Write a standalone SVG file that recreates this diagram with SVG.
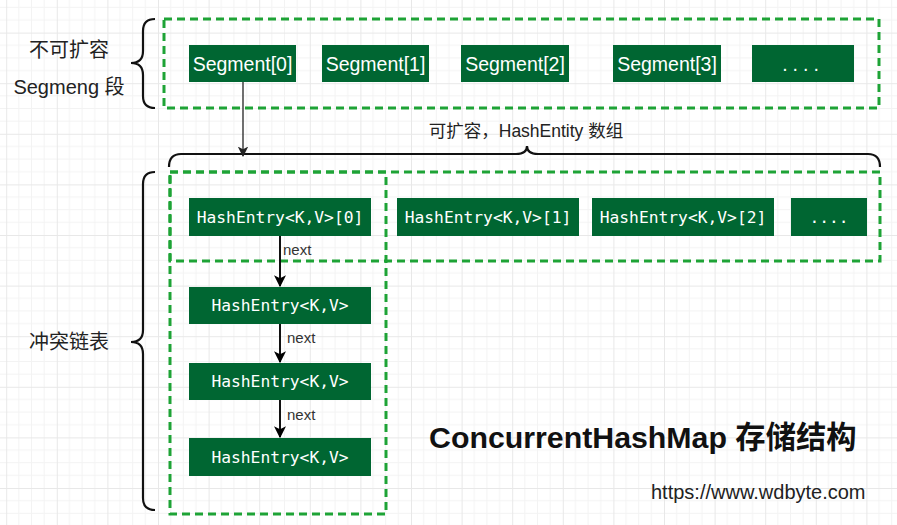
<svg xmlns="http://www.w3.org/2000/svg" width="897" height="525" viewBox="0 0 897 525">
<defs>
<pattern id="grid" width="50.6" height="50.6" patternUnits="userSpaceOnUse" patternTransform="translate(6.2,32.6)">
<path d="M12.65 0V50.6M25.3 0V50.6M37.95 0V50.6M0 12.65H50.6M0 25.3H50.6M0 37.95H50.6" stroke="#f3f3f3" stroke-width="1" fill="none"/>
<path d="M0.5 0V50.6M0 0.5H50.6" stroke="#e8e8e8" stroke-width="1" fill="none"/>
</pattern>
<marker id="arr" viewBox="0 0 10 10" refX="9" refY="5" markerWidth="6" markerHeight="6" markerUnits="strokeWidth" orient="auto">
<path d="M0,0 L10,5 L0,10 L2.5,5 Z" fill="#000"/>
</marker>
<marker id="arr2" viewBox="0 0 10 10" refX="9" refY="5" markerWidth="7.5" markerHeight="7.5" markerUnits="strokeWidth" orient="auto">
<path d="M0,0 L10,5 L0,10 L2.5,5 Z" fill="#222"/>
</marker>
</defs>
<style>
.dash{fill:none;stroke:#1ea336;stroke-width:3;stroke-dasharray:8 5}
.box{fill:#006632}
.seg{font-family:"Liberation Sans",Arial,sans-serif;font-size:19.5px;fill:#fff;text-anchor:middle;dominant-baseline:central}
.he{font-family:"DejaVu Sans Mono","Liberation Mono",monospace;font-size:16.3px;fill:#fff;text-anchor:middle;dominant-baseline:central}
.lbl{font-family:"Liberation Sans","Noto Sans CJK SC",sans-serif;font-size:20px;fill:#222;text-anchor:middle;dominant-baseline:central}
.next{font-family:"Liberation Sans",Arial,sans-serif;font-size:15px;fill:#333;dominant-baseline:central}
.brace{fill:none;stroke:#111;stroke-width:2.2}
.conn{fill:none;stroke:#111;stroke-width:2}
</style>
<rect width="897" height="525" fill="#fff"/>
<rect width="897" height="525" fill="url(#grid)"/>

<g id="containers">
<rect class="dash" x="164" y="19" width="715" height="89"/>
<rect class="dash" x="170" y="172" width="710" height="89"/>
<rect class="dash" x="170" y="172" width="216" height="342"/>
</g>

<g id="braces">
<path class="brace" d="M155,19 Q143,19 143,31 L143,51 Q143,63 131,63 Q143,63 143,75 L143,96 Q143,108 155,108"/>
<path class="brace" d="M169,167 Q169,154 181,154 L516,154 Q527,154 527,146 Q527,154 538,154 L868,154 Q880,154 880,167"/>
<path class="brace" d="M155,172 Q143,172 143,184 L143,330 Q143,342 131,342 Q143,342 143,354 L143,498 Q143,510 155,510"/>
</g>

<g id="labels">
<text class="lbl" x="69" y="50">不可扩容</text>
<text class="lbl" x="69" y="87">Segmeng 段</text>
<text class="lbl" x="69" y="342">冲突链表</text>
<text class="lbl" x="526" y="131" style="font-size:17.5px">可扩容，HashEntity 数组</text>
<text x="429" y="448" style="font-family:'Liberation Sans','Noto Sans CJK SC',sans-serif;font-size:30.3px;font-weight:bold;fill:#111">ConcurrentHashMap 存储结构</text>
<text x="651" y="499" style="font-family:'Liberation Sans',Arial,sans-serif;font-size:20px;fill:#222">https://www.wdbyte.com</text>
</g>

<g id="seg0"><rect class="box" x="189" y="45" width="107" height="37"/><text class="seg" x="242.5" y="64">Segment[0]</text></g>
<g id="seg1"><rect class="box" x="322" y="45" width="107" height="37"/><text class="seg" x="375.5" y="64">Segment[1]</text></g>
<g id="seg2"><rect class="box" x="461" y="45" width="108" height="37"/><text class="seg" x="515" y="64">Segment[2]</text></g>
<g id="seg3"><rect class="box" x="613" y="45" width="108" height="37"/><text class="seg" x="667" y="64">Segment[3]</text></g>
<g id="segmore"><rect class="box" x="752" y="45" width="102" height="37"/><text class="seg" x="803" y="64" style="letter-spacing:5px">....</text></g>

<g id="he0"><rect class="box" x="189" y="198" width="182" height="38"/><text class="he" x="280" y="217">HashEntry&lt;K,V&gt;[0]</text></g>
<g id="he1"><rect class="box" x="397" y="198" width="182" height="38"/><text class="he" x="488" y="217">HashEntry&lt;K,V&gt;[1]</text></g>
<g id="he2"><rect class="box" x="592" y="198" width="182" height="38"/><text class="he" x="683" y="217">HashEntry&lt;K,V&gt;[2]</text></g>
<g id="hemore"><rect class="box" x="791" y="198" width="76" height="38"/><text class="he" x="829" y="217">....</text></g>

<g id="chain1"><rect class="box" x="189" y="287" width="182" height="37"/><text class="he" x="280" y="305.5">HashEntry&lt;K,V&gt;</text></g>
<g id="chain2"><rect class="box" x="189" y="363" width="182" height="37"/><text class="he" x="280" y="381.5">HashEntry&lt;K,V&gt;</text></g>
<g id="chain3"><rect class="box" x="189" y="438" width="182" height="38"/><text class="he" x="280" y="457">HashEntry&lt;K,V&gt;</text></g>

<g id="connectors">
<path class="conn" d="M243,82 V156" style="stroke:#333;stroke-width:1.4" marker-end="url(#arr2)"/>
<path class="conn" d="M280,236 V286" marker-end="url(#arr)"/>
<path class="conn" d="M280,324 V362" marker-end="url(#arr)"/>
<path class="conn" d="M280,400 V437" marker-end="url(#arr)"/>
<text class="next" x="283" y="249">next</text>
<text class="next" x="287" y="337">next</text>
<text class="next" x="287" y="414">next</text>
</g>
</svg>
